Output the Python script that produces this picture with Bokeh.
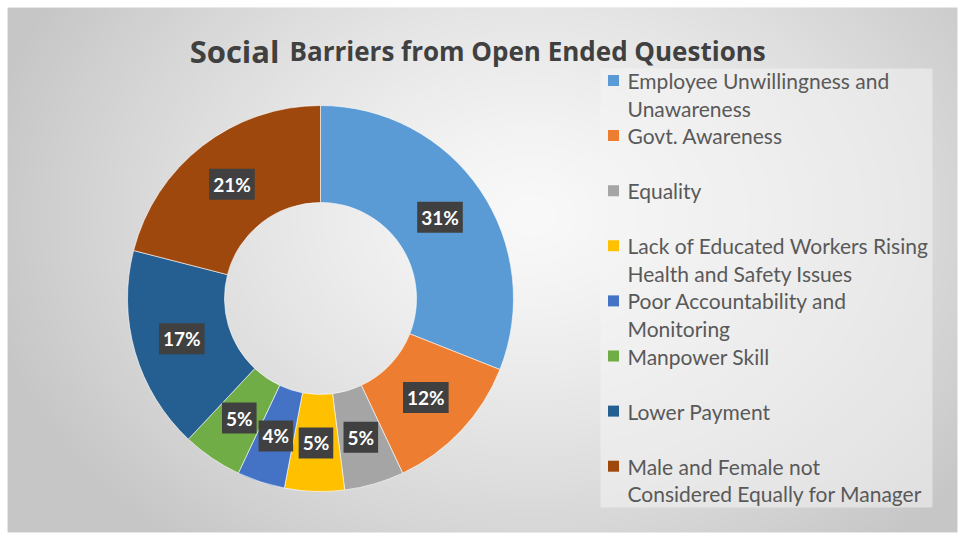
import numpy as np
from bokeh.plotting import figure
from bokeh.models import Range1d
from bokeh.core.properties import value
from bokeh.embed import file_html
from bokeh.resources import INLINE

# ---------------- data ----------------
categories = [
    "Employee Unwillingness and\nUnawareness",
    "Govt. Awareness",
    "Equality",
    "Lack of Educated Workers Rising\nHealth and Safety Issues",
    "Poor Accountability and\nMonitoring",
    "Manpower Skill",
    "Lower Payment",
    "Male and Female not\nConsidered Equally for Manager",
]
shares = [31, 12, 5, 5, 4, 5, 17, 21]
colors = ["#5B9BD5", "#ED7D31", "#A5A5A5", "#FFC000",
          "#4472C4", "#70AD47", "#255E91", "#9E480E"]
title_big = "Social"
title_rest = "Barriers from Open Ended Questions"

# ---------------- layout ----------------
W, H = 960, 533
p = figure(width=W, height=H, output_backend="svg", toolbar_location=None,
           x_range=Range1d(7, 957), y_range=Range1d(1, 526),
           min_border_left=7, min_border_right=3, min_border_top=7, min_border_bottom=1)
p.axis.visible = False
p.grid.visible = False
p.outline_line_color = None
p.background_fill_color = "#e4e4e4"
p.border_fill_color = "#ffffff"

def Y(v):
    return H - v

# soft radial background (decoration)
nx, ny = 475, 263
xs = 7 + (np.arange(nx) + 0.5) * 950 / nx
ys = 1 + (np.arange(ny) + 0.5) * 525 / ny
GX, GY = np.meshgrid(xs, ys)
d = np.sqrt(((GX - 530) / 560.0) ** 2 + ((GY - Y(215)) / 430.0) ** 2)
d = np.clip(d, 0, 1)
g = (249 - (249 - 198) * d ** 1.3).astype(np.uint32)
img = (np.uint32(255) << 24) | (g << 16) | (g << 8) | g
p.image_rgba(image=[img], x=7, y=1, dw=950, dh=525)

# ---------------- donut ----------------
cx, cy = 320, Y(298)
r_out, r_in = 193, 96
frac = np.array(shares, dtype=float) / sum(shares)
cum = np.cumsum(frac)
start = np.pi / 2 - 2 * np.pi * (cum - frac)
end = np.pi / 2 - 2 * np.pi * cum
p.annular_wedge(x=cx, y=cy, inner_radius=r_in, outer_radius=r_out,
                start_angle=list(start), end_angle=list(end), direction="clock",
                fill_color=colors, line_color="white", line_width=1, line_alpha=0.6)

# data labels at mid ring
mid = cum - frac / 2
ang = np.pi / 2 - 2 * np.pi * mid
rm = (r_out + r_in) / 2
lx = cx + rm * np.cos(ang)
ly = cy + rm * np.sin(ang)
p.text(x=list(lx), y=list(ly), text=[f"{v}%" for v in shares],
       text_font=value("Lato"), text_font_style="bold", text_font_size="19px",
       text_color="white", text_align="center", text_baseline="middle",
       background_fill_color="#404040", padding=4)

# ---------------- title ----------------
p.text(x=[279], y=[Y(50)], text=[title_big], text_font=value("Open Sans"),
       text_font_style="bold", text_font_size="31px", text_color="#404040",
       text_align="right", text_baseline="alphabetic")
p.text(x=[289], y=[Y(50)], text=[title_rest], text_font=value("Open Sans"),
       text_font_style="bold", text_font_size="26px", text_color="#404040",
       text_align="left", text_baseline="alphabetic")

# ---------------- legend (manual, Excel-like slots) ----------------
p.quad(left=600, right=932, bottom=Y(507), top=Y(68), fill_color="#f4f4f4",
       fill_alpha=0.55, line_color=None)
slot0, slot_h, line_h = 80, 55.1, 27.5
sq_x, sq_y, tx, ty = [], [], [], []
tlines = []
for i, c in enumerate(categories):
    yc = slot0 + slot_h * i
    sq_x.append(613)
    sq_y.append(Y(yc))
    for j, line in enumerate(c.split("\n")):
        tx.append(627)
        ty.append(Y(yc + j * line_h))
        tlines.append(line)
p.rect(x=sq_x, y=sq_y, width=11, height=11, fill_color=colors, line_color=None)
p.text(x=tx, y=ty, text=tlines, text_font=value("Lato"), text_font_size="21px",
       text_color="#595959", text_align="left", text_baseline="middle")

open("out.html", "w").write(file_html(p, INLINE))
